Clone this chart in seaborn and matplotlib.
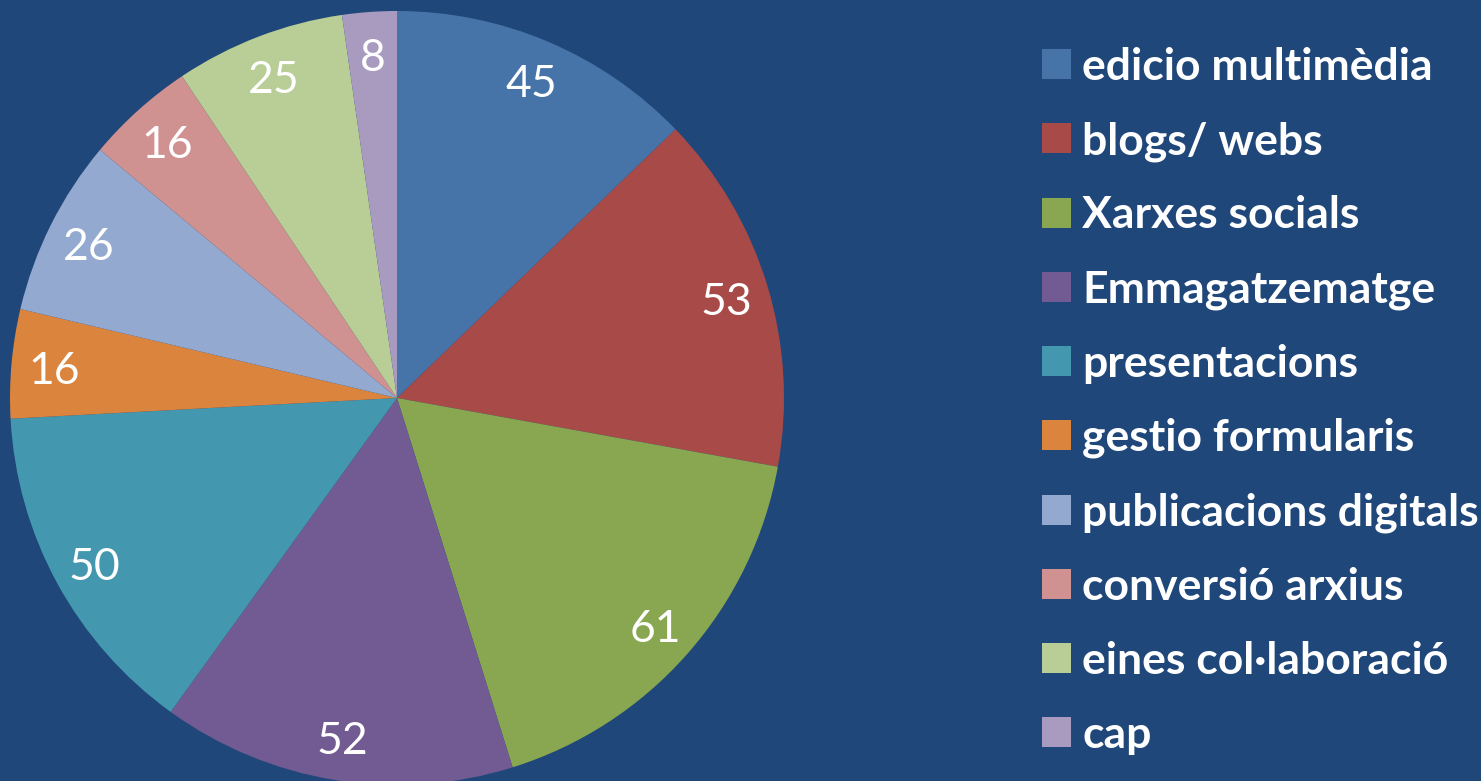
import matplotlib
matplotlib.use("Agg")
import matplotlib.pyplot as plt
import seaborn as sns

categories = ["edicio multimèdia", "blogs/ webs", "Xarxes socials", "Emmagatzematge",
              "presentacions", "gestio formularis", "publicacions digitals",
              "conversió arxius", "eines col·laboració", "cap"]
counts = [45, 53, 61, 52, 50, 16, 26, 16, 25, 8]
colors = ["#4674A8", "#A84A48", "#89A651", "#725B92", "#4397AE",
          "#DA843E", "#93A9D0", "#D09290", "#B9CD96", "#A99BC0"]
bg = "#20477A"

sns.set_theme(style="white")
plt.rcParams["font.family"] = ["Lato", "DejaVu Sans"]

fig = plt.figure(figsize=(14.81, 7.81), dpi=100, facecolor=bg)
W, H = 1481, 781
# pie box: centre (397, 398), radius 387 px
ax = fig.add_axes([(397 - 387) / W, (H - 398 - 387) / H, 774 / W, 774 / H])
ax.set_facecolor(bg)

wedges, texts = ax.pie(counts, colors=colors, startangle=90, counterclock=False,
                       labels=[str(c) for c in counts], labeldistance=0.89,
                       wedgeprops=dict(linewidth=0),
                       textprops=dict(color="white", fontsize=32))
for t in texts:
    t.set_ha("center")
    t.set_va("center_baseline")
ax.set_xlim(-1, 1)
ax.set_ylim(-1, 1)
ax.set_aspect("equal")
ax.axis("off")

leg = fig.legend(wedges, categories, loc="upper left",
                 bbox_to_anchor=(1042 / W, 1 - 47 / H), frameon=False,
                 handlelength=0.66, handleheight=0.66, handletextpad=0.25,
                 labelspacing=0.765, borderpad=0, borderaxespad=0,
                 prop=dict(family=["Lato", "DejaVu Sans"], weight="bold", size=32))
for t in leg.get_texts():
    t.set_color("white")

fig.savefig("out.png", dpi=100, facecolor=bg)
